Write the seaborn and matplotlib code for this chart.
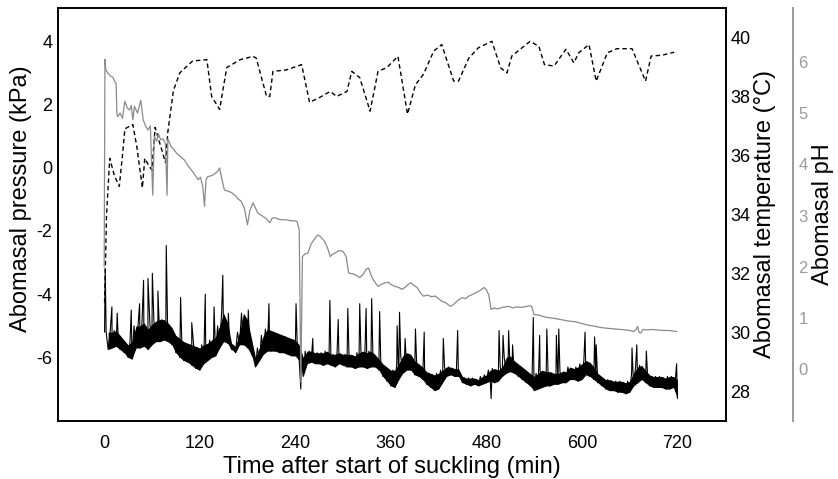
import numpy as np
import pandas as pd
import matplotlib
matplotlib.use("Agg")
import matplotlib.pyplot as plt
import seaborn as sns

sns.set_theme(style="white")
plt.rcParams['font.family'] = ['Liberation Sans', 'DejaVu Sans']
plt.rcParams['axes.unicode_minus'] = False
plt.rcParams['text.color'] = 'black'
plt.rcParams['axes.labelcolor'] = 'black'
plt.rcParams['xtick.color'] = 'black'
plt.rcParams['ytick.color'] = 'black'

# ---------------- data ----------------
# Abomasal temperature (°C), dashed line
temp_time = [0.5, 3, 7, 10, 13, 19, 23, 26, 36, 41, 48, 51, 55, 60, 64, 70, 77, 80, 87, 95,
             111, 129, 135, 145, 154, 171, 187, 191, 204, 208, 212, 229, 248, 258, 271, 284,
             292, 305, 311, 321, 334, 344, 355, 369, 381, 391, 401, 414, 424, 439, 445, 458,
             470, 487, 498, 506, 512, 535, 546, 553, 565, 580, 590, 596, 609, 618, 632, 644,
             663, 680, 687, 701, 716]
temp_val = [31.0, 34.0, 35.9, 35.6, 35.3, 34.95, 36.0, 36.9, 37.05, 36.3, 34.9, 35.9, 35.7,
            35.5, 36.95, 36.4, 35.76, 36.8, 38.2, 38.8, 39.2, 39.25, 38.0, 37.56, 38.98, 39.25,
            39.36, 39.3, 38.0, 38.0, 38.85, 38.9, 39.08, 37.8, 37.97, 38.17, 38.0, 38.17, 38.85,
            38.64, 37.5, 38.85, 38.98, 39.36, 37.4, 38.4, 38.75, 39.54, 39.76, 38.52, 38.52,
            39.3, 39.65, 39.87, 38.97, 38.8, 39.37, 39.87, 39.7, 39.08, 39.03, 39.6, 39.14,
            39.48, 39.76, 38.52, 39.48, 39.62, 39.62, 38.52, 39.37, 39.4, 39.5]

# Abomasal pH, grey line
ph_time = [0, 1.0, 2, 4.6, 8, 11, 13, 15, 16, 17, 20, 23, 26, 29, 32, 34, 36, 38, 42, 46, 49,
           52, 55, 58, 61, 63, 66, 68, 71, 74, 77, 79, 80, 84, 88, 92, 96, 101, 105, 109, 113,
           118, 121, 124, 126, 128, 130, 135, 139, 143, 145, 148, 151, 155, 160, 164, 168, 172,
           176, 178, 180, 183, 187, 190, 193, 198, 203, 208, 211, 214, 219, 224, 229, 234, 238,
           242, 245, 247, 249, 252, 256, 260, 265, 268, 271, 274, 277, 281, 284, 287, 290, 295,
           300, 304, 307, 311, 315, 318, 321, 325, 329, 332, 335, 338, 341, 344, 348, 353, 357,
           361, 365, 370, 374, 378, 382, 385, 389, 393, 397, 401, 406, 411, 416, 420, 424, 429,
           435, 439, 445, 450, 454, 458, 462, 466, 470, 474, 477, 480, 483, 486, 490, 494, 498,
           503, 508, 513, 518, 523, 528, 533, 537, 540, 546, 552, 558, 564, 571, 578, 585, 592,
           599, 606, 613, 620, 627, 634, 641, 648, 655, 660, 665, 668, 670, 672, 674, 677, 682,
           688, 695, 702, 709, 715, 719]
ph_val = [2.0, 6.05, 5.85, 5.78, 5.72, 5.7, 5.62, 5.58, 5.0, 4.93, 5.0, 4.9, 5.23, 5.1, 5.06,
          5.15, 4.87, 5.13, 5.0, 5.25, 4.87, 4.75, 4.67, 4.75, 3.4, 4.55, 4.45, 4.6, 4.48, 4.5,
          4.4, 3.4, 4.5, 4.35, 4.28, 4.2, 4.15, 4.08, 3.98, 3.9, 3.82, 3.7, 3.75, 3.55, 3.18,
          3.7, 3.76, 3.78, 3.82, 3.87, 3.93, 3.7, 3.5, 3.48, 3.45, 3.4, 3.33, 3.28, 3.15, 2.98,
          2.82, 3.1, 3.25, 3.15, 3.05, 3.0, 2.95, 2.86, 2.95, 2.96, 2.93, 2.92, 2.92, 2.9, 2.9,
          2.89, 2.73, -0.25, 2.2, 2.25, 2.27, 2.45, 2.56, 2.62, 2.6, 2.55, 2.5, 2.35, 2.2, 2.25,
          2.27, 2.32, 2.3, 2.2, 1.88, 1.87, 1.85, 1.82, 1.79, 1.85, 1.95, 1.98, 1.85, 1.75, 1.68,
          1.62, 1.66, 1.69, 1.7, 1.65, 1.62, 1.6, 1.56, 1.6, 1.66, 1.69, 1.64, 1.6, 1.5, 1.43,
          1.45, 1.42, 1.43, 1.38, 1.33, 1.3, 1.23, 1.27, 1.36, 1.4, 1.38, 1.43, 1.46, 1.49, 1.52,
          1.56, 1.6, 1.55, 1.46, 1.17, 1.2, 1.18, 1.2, 1.22, 1.23, 1.2, 1.22, 1.21, 1.22, 1.24,
          1.23, 1.07, 1.06, 1.03, 1.01, 1.0, 0.98, 0.96, 0.94, 0.93, 0.9, 0.87, 0.85, 0.83, 0.81,
          0.8, 0.79, 0.78, 0.77, 0.76, 0.74, 0.78, 0.84, 0.72, 0.71, 0.78, 0.77, 0.78, 0.77,
          0.76, 0.76, 0.75, 0.74]

# Abomasal pressure (kPa): band read every 5 min (lower / upper edge) plus spikes
press_step_time = list(range(5, 721, 5))
press_lower = [-5.75, -5.7, -5.65, -5.75, -5.85, -6.0, -6.05, -5.7, -5.7, -5.65,
               -5.75, -5.6, -5.5, -5.5, -5.45, -5.5, -5.6, -5.85, -6.0, -6.1,
               -6.15, -6.25, -6.35, -6.4, -6.2, -6.1, -6.0, -5.95, -5.7, -5.5,
               -5.55, -5.75, -5.85, -5.6, -5.6, -5.7, -5.9, -6.3, -6.1, -5.9,
               -5.8, -5.8, -5.8, -5.85, -5.85, -5.9, -5.95, -5.95, -6.1, -6.6,
               -6.2, -6.15, -6.2, -6.2, -6.25, -6.2, -6.25, -6.3, -6.2, -6.25,
               -6.3, -6.3, -6.35, -6.3, -6.3, -6.35, -6.3, -6.3, -6.4, -6.6,
               -6.75, -6.9, -6.95, -6.7, -6.5, -6.4, -6.4, -6.55, -6.6, -6.7,
               -6.85, -6.95, -7.05, -7.0, -6.8, -6.6, -6.55, -6.6, -6.6, -6.8,
               -6.85, -6.9, -6.85, -6.9, -6.85, -6.8, -6.75, -6.8, -6.75, -6.6,
               -6.5, -6.45, -6.5, -6.6, -6.7, -6.8, -6.9, -7.05, -7.0, -6.95,
               -6.9, -6.9, -6.85, -6.85, -6.8, -6.8, -6.7, -6.7, -6.75, -6.7,
               -6.55, -6.6, -6.7, -6.8, -6.9, -7.0, -7.05, -7.05, -7.1, -7.1,
               -7.15, -7.1, -6.9, -6.8, -6.7, -6.8, -6.9, -6.95, -6.95, -6.95,
               -7.0, -7.0, -6.95, -7.3]
press_upper = [-5.2, -5.2, -5.15, -5.3, -5.45, -5.6, -5.5, -5.0, -5.0, -4.9,
               -5.1, -4.95, -4.85, -4.8, -4.8, -4.9, -5.05, -5.3, -5.4, -5.5,
               -5.55, -5.6, -5.65, -5.7, -5.6, -5.55, -5.45, -5.35, -5.0, -4.6,
               -4.9, -5.55, -5.65, -5.2, -4.6, -4.8, -5.4, -6.0, -5.7, -5.3,
               -5.1, -5.15, -5.2, -5.25, -5.3, -5.35, -5.4, -5.45, -5.6, -6.0,
               -5.8, -5.8, -5.85, -5.85, -5.85, -5.8, -5.9, -5.9, -5.85, -5.9,
               -5.9, -5.9, -5.95, -5.85, -5.8, -5.85, -5.8, -5.9, -6.05, -6.2,
               -6.3, -6.4, -6.4, -6.2, -5.95, -5.85, -5.9, -6.1, -6.2, -6.3,
               -6.45, -6.5, -6.55, -6.5, -6.4, -6.3, -6.3, -6.35, -6.35, -6.6,
               -6.65, -6.65, -6.65, -6.7, -6.6, -6.55, -6.4, -6.35, -6.4, -6.3,
               -6.0, -5.95, -6.1, -6.2, -6.3, -6.4, -6.5, -6.6, -6.5, -6.4,
               -6.45, -6.45, -6.5, -6.5, -6.45, -6.45, -6.3, -6.35, -6.3, -6.2,
               -6.1, -6.15, -6.3, -6.5, -6.6, -6.7, -6.7, -6.75, -6.75, -6.75,
               -6.8, -6.75, -6.5, -6.3, -6.25, -6.4, -6.55, -6.6, -6.6, -6.6,
               -6.65, -6.6, -6.6, -6.7]
spike_time = [0.5, 1.3, 9.7, 16.4, 34, 44.5, 49.5, 55, 60.5, 67.5, 78, 96, 110, 127, 138, 149,
              156, 181, 207, 241, 247, 262, 283.5, 294, 306, 321, 329, 336, 346, 368, 371, 378,
              391, 402, 426, 444, 486, 496, 501, 508, 513, 539, 547, 556, 568, 571, 604, 616,
              618, 663, 669, 681, 719]
spike_val = [-5.2, -3.2, -4.4, -4.6, -4.5, -4.3, -3.56, -3.5, -3.34, -3.9, -2.46, -4.1, -4.9,
             -4.0, -4.4, -3.4, -4.6, -4.5, -4.3, -4.3, -7.0, -5.4, -4.2, -4.8, -4.45, -4.3,
             -4.45, -4.14, -4.55, -5.0, -4.57, -5.4, -5.1, -5.2, -5.4, -5.15, -7.3, -5.15, -5.3,
             -5.15, -5.6, -4.74, -5.3, -5.1, -5.3, -5.1, -5.2, -5.35, -5.6, -5.7, -5.6, -5.8,
             -6.2]

x_ticks = [0, 120, 240, 360, 480, 600, 720]
press_ticks = [-6, -4, -2, 0, 2, 4]
temp_ticks = [28, 30, 32, 34, 36, 38, 40]
ph_ticks = [0, 1, 2, 3, 4, 5, 6]

# ---------------- tables ----------------
band = pd.DataFrame({
    "t": list(press_step_time) + [t - 2.5 for t in press_step_time] + spike_time,
    "p": press_lower + press_upper + spike_val,
}).sort_values("t", kind="mergesort")
env = pd.DataFrame({"t": press_step_time, "lo": press_lower, "hi": press_upper})
temp_df = pd.DataFrame({"t": temp_time, "T": temp_val})
ph_df = pd.DataFrame({"t": ph_time, "pH": ph_val})

# ---------------- figure ----------------
fig = plt.figure(figsize=(8.38, 4.79), dpi=100)
ax = fig.add_axes([0.0692, 0.1217, 0.7971, 0.8616])
ax_t = ax.twinx()
ax_ph = ax.twinx()

ax.fill_between(env["t"], env["lo"], env["hi"], color="black", lw=0)
sns.lineplot(data=band, x="t", y="p", ax=ax, color="black", lw=0.8,
             estimator=None, sort=False)
sns.lineplot(data=temp_df, x="t", y="T", ax=ax_t, color="black", lw=1.0,
             linestyle=(0, (3.2, 2.2)), estimator=None)
sns.lineplot(data=ph_df, x="t", y="pH", ax=ax_ph, color="#8a8a8a", lw=0.9,
             estimator=None)

GREY = "#9a9a9a"
ax.set_xlim(-58, 781)
ax.set_ylim(-8.0, 5.05)
ax_t.set_ylim(27.0, 41.0)
ax_ph.set_ylim(-1.0, 7.05)

ax.set_xticks(x_ticks)
ax.set_yticks(press_ticks)
ax_t.set_yticks(temp_ticks)
ax_ph.set_yticks(ph_ticks)

for a in (ax, ax_t, ax_ph):
    a.grid(False)
    a.tick_params(length=0, labelsize=13)

ax.tick_params(axis="x", pad=10, labelcolor="black")
ax.tick_params(axis="y", pad=4, labelcolor="black")
ax_t.tick_params(axis="y", pad=3, labelcolor="black")
ax_ph.tick_params(axis="y", pad=4, labelcolor=GREY, labelsize=12)

for s in ax.spines.values():
    s.set_color("black")
    s.set_linewidth(1.4)
for name, s in ax_t.spines.items():
    s.set_visible(False)
for name, s in ax_ph.spines.items():
    s.set_visible(name == "right")
ax_ph.spines["right"].set_position(("axes", 1.1))
ax_ph.spines["right"].set_color(GREY)
ax_ph.spines["right"].set_linewidth(1.4)

ax.set_xlabel("Time after start of suckling (min)", fontsize=17, labelpad=3, color="black")
ax.set_ylabel("Abomasal pressure (kPa)", fontsize=17, labelpad=3, y=0.538, color="black")
ax_t.set_ylabel("Abomasal temperature (°C)", fontsize=17, labelpad=3, color="black")
ax_ph.set_ylabel("Abomasal pH", fontsize=17, labelpad=3, color="black")

fig.savefig("out.png", dpi=100)
